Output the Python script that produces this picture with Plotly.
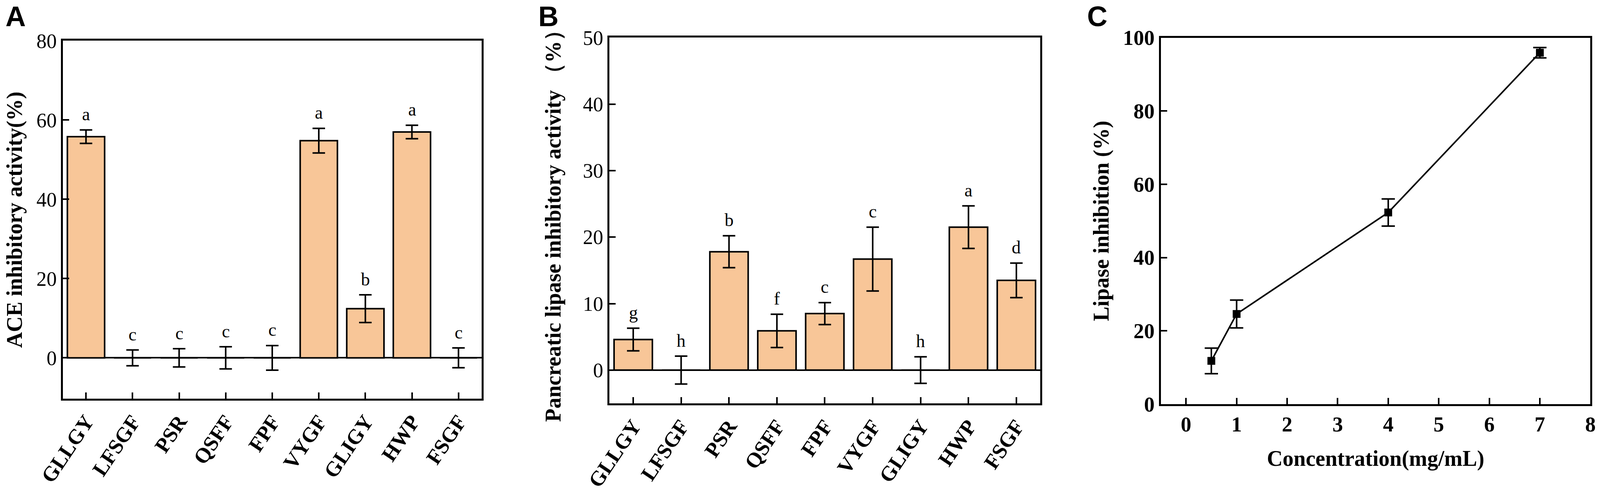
import plotly.graph_objects as go

# peptides tested in panels A and B
peptides = ["GLLGY", "LFSGF", "PSR", "QSFF", "FPF", "VYGF", "GLIGY", "HWP", "FSGF"]

# A: ACE inhibitory activity (%)
ace_mean = [55.8, 0, 0, 0, 0, 54.8, 12.4, 57.0, 0]
ace_err = [1.7, 2.0, 2.3, 2.8, 3.1, 3.1, 3.5, 1.7, 2.5]
ace_sig = ["a", "c", "c", "c", "c", "a", "b", "a", "c"]

# B: pancreatic lipase inhibitory activity (%)
lip_mean = [4.6, 0, 17.8, 5.9, 8.5, 16.7, 0, 21.5, 13.5]
lip_err = [1.7, 2.1, 2.4, 2.5, 1.65, 4.8, 2.0, 3.2, 2.6]
lip_sig = ["g", "h", "b", "f", "c", "c", "h", "a", "d"]

# C: lipase inhibition vs concentration
conc = [0.5, 1, 4, 7]
inhib = [11.8, 24.6, 52.3, 95.9]
inhib_err = [3.5, 3.8, 3.7, 1.4]

SERIF = "Liberation Serif"
BAR_COLOR = "#F8C698"

fig = go.Figure()


def add_bars(xa, ya, means, errs):
    fig.add_trace(go.Bar(
        x=peptides, y=means, width=0.8, xaxis=xa, yaxis=ya,
        marker=dict(color=BAR_COLOR, line=dict(color="black", width=4)),
        error_y=dict(type="data", array=errs, color="black", thickness=4, width=16),
        showlegend=False,
    ))


def add_letters(xref, yref, means, errs, sigs):
    for p, m, e, s in zip(peptides, means, errs, sigs):
        fig.add_annotation(
            x=p, y=m + e, xref=xref, yref=yref, text=s, showarrow=False,
            yanchor="middle", yshift=40,
            font=dict(family=SERIF, size=46, color="black"),
        )


add_bars("x", "y", ace_mean, ace_err)
add_letters("x", "y", ace_mean, ace_err, ace_sig)
add_bars("x2", "y2", lip_mean, lip_err)
add_letters("x2", "y2", lip_mean, lip_err, lip_sig)

fig.add_trace(go.Scatter(
    x=conc, y=inhib, xaxis="x3", yaxis="y3", mode="lines+markers",
    line=dict(color="black", width=4),
    marker=dict(symbol="square", size=20, color="black"),
    error_y=dict(type="data", array=inhib_err, color="black", thickness=4, width=17),
    showlegend=False,
))

frame = dict(showline=True, linecolor="black", linewidth=5, mirror=True,
             ticks="inside", ticklen=16, tickwidth=4, tickcolor="black",
             showgrid=False, automargin=False)
cat_font = dict(family=SERIF, size=54, color="black", weight="bold")
num_font = dict(family=SERIF, size=52, color="black")
bold_num = dict(family=SERIF, size=54, color="black", weight="bold")
title_font = dict(family=SERIF, size=56, color="black", weight="bold")

fig.update_layout(
    template="none",
    autosize=True,
    margin=dict(l=0, r=0, t=0, b=0, pad=0),
    paper_bgcolor="white", plot_bgcolor="white",
    xaxis=dict(domain=[0.0392, 0.3011], anchor="y", type="category",
               range=[-0.5, 8.5], tickangle=-56, tickfont=cat_font, **frame),
    yaxis=dict(domain=[0.1897, 0.9171], anchor="x", range=[-10.3, 80],
               tickvals=[0, 20, 40, 60, 80], tickfont=num_font,
               zeroline=True, zerolinecolor="black", zerolinewidth=4,
               title=dict(text="ACE inhibitory activity(%)", font=title_font, standoff=20),
               **frame),
    xaxis2=dict(domain=[0.3808, 0.6502], anchor="y2", type="category",
                range=[-0.5, 8.5], tickangle=-56, tickfont=cat_font, **frame),
    yaxis2=dict(domain=[0.1802, 0.9235], anchor="x2", range=[-5, 50],
                tickvals=[0, 10, 20, 30, 40, 50], tickfont=num_font,
                zeroline=True, zerolinecolor="black", zerolinewidth=4,
                title=dict(text="Pancreatic lipase inhibitory activity （%）",
                           font=title_font, standoff=40),
                **frame),
    xaxis3=dict(domain=[0.7255, 0.9940], anchor="y3", range=[-0.5, 8],
                tickvals=list(range(0, 9)), tickfont=bold_num, zeroline=False,
                title=dict(text="Concentration(mg/mL)", font=title_font, standoff=40),
                **frame),
    yaxis3=dict(domain=[0.1786, 0.9234], anchor="x3", range=[0, 100],
                tickvals=[0, 20, 40, 60, 80, 100], tickfont=bold_num, zeroline=False,
                title=dict(text="Lipase inhibition (%)", font=title_font, standoff=20),
                **frame),
)

for letter, xpos in [("A", 0.003), ("B", 0.336), ("C", 0.679)]:
    fig.add_annotation(
        x=xpos, y=1.0, xref="paper", yref="paper", text=letter, showarrow=False,
        xanchor="left", yanchor="top",
        font=dict(family="Liberation Sans", size=72, color="black", weight="bold"),
    )

# fill the browser window exactly, without the default page margin
fit_page = (
    "document.body.style.margin='0';"
    "document.body.style.overflow='hidden';"
    "Plotly.Plots.resize(document.getElementById('{plot_id}'));"
)
fig.write_html("out.html", default_width="100vw", default_height="100vh",
               post_script=fit_page, config={"displayModeBar": False})
